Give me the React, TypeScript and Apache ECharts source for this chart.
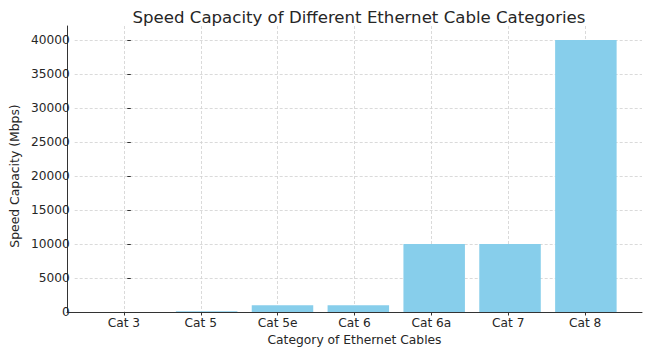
import React, { useEffect, useRef } from "react";
import * as echarts from "echarts";

const categories = ["Cat 3", "Cat 5", "Cat 5e", "Cat 6", "Cat 6a", "Cat 7", "Cat 8"];
const speeds = [10, 100, 1000, 1000, 10000, 10000, 40000];
const yTicks = [0, 5000, 10000, 15000, 20000, 25000, 30000, 35000, 40000];

const FONT = "DejaVu Sans";
const TEXT = "#262626";
const GRID = "#d0d0d0";

export default function App() {
  const ref = useRef<HTMLDivElement>(null);
  useEffect(() => {
    if (!ref.current) return;
    const chart = echarts.init(ref.current, undefined, { renderer: "svg" });
    const idx = categories.map((_, i) => i);
    const option: any = {
      animation: false,
      backgroundColor: "#ffffff",
      textStyle: { fontFamily: FONT },
      title: {
        text: "Speed Capacity of Different Ethernet Cable Categories",
        left: 354,
        textAlign: "center",
        top: 4,
        textStyle: { fontFamily: FONT, fontSize: 16.6, fontWeight: "normal", color: TEXT },
      },
      grid: [
        { left: 67, right: 8, top: 40, bottom: 40 },
        { left: 67, right: 8, top: 26, bottom: 40 },
      ],
      xAxis: [
        {
          gridIndex: 0,
          type: "value",
          min: -0.74,
          max: 6.74,
          show: false,
        },
        {
          gridIndex: 1,
          type: "value",
          min: -0.74,
          max: 6.74,
          axisLine: { show: true, onZero: false, lineStyle: { color: "#333", width: 1 } },
          axisTick: { show: true, customValues: idx, length: 3.5, lineStyle: { color: "#333" } },
          axisLabel: {
            customValues: idx,
            formatter: (v: number) => categories[Math.round(v)] ?? "",
            fontFamily: FONT,
            fontSize: 12.2,
            color: TEXT,
            margin: 5,
          },
          splitLine: {
            show: true,
            customValues: idx,
            lineStyle: { color: GRID, type: [3, 2], width: 0.8 },
          },
          name: "Category of Ethernet Cables",
          nameLocation: "middle",
          nameGap: 19,
          nameTextStyle: { fontFamily: FONT, fontSize: 12.3, color: TEXT, verticalAlign: "top" },
        },
      ],
      yAxis: [
        {
          gridIndex: 0,
          type: "value",
          min: 0,
          max: 40000,
          interval: 5000,
          axisLine: { show: false },
          axisTick: { show: true, length: 3.5, lineStyle: { color: "#333" } },
          axisLabel: {
            fontFamily: FONT,
            fontSize: 12.2,
            color: TEXT,
            margin: 5,
            formatter: (v: number) => (yTicks.includes(v) ? String(v) : ""),
          },
          splitLine: { show: true, lineStyle: { color: GRID, type: [3, 2], width: 0.8 } },
          name: "Speed Capacity (Mbps)",
          nameLocation: "middle",
          nameGap: 53,
          nameRotate: 90,
          nameTextStyle: { fontFamily: FONT, fontSize: 12.4, color: TEXT, verticalAlign: "bottom" },
        },
        {
          gridIndex: 1,
          type: "value",
          min: 0,
          max: 1,
          axisLine: { show: true, onZero: false, lineStyle: { color: "#333", width: 1 } },
          axisTick: { show: false },
          axisLabel: { show: false },
          splitLine: { show: false },
        },
      ],
      series: [
        {
          type: "bar",
          xAxisIndex: 0,
          yAxisIndex: 0,
          data: speeds.map((v, i) => [i, v]),
          barWidth: 61.5,
          itemStyle: { color: "#87CEEB" },
          clip: false,
          z: 3,
        },
      ],
    };
    chart.setOption(option);
    return () => chart.dispose();
  }, []);
  return (
    <div
      ref={ref}
      style={{ position: "fixed", left: 0, top: 0, width: 650, height: 352 }}
    />
  );
}
